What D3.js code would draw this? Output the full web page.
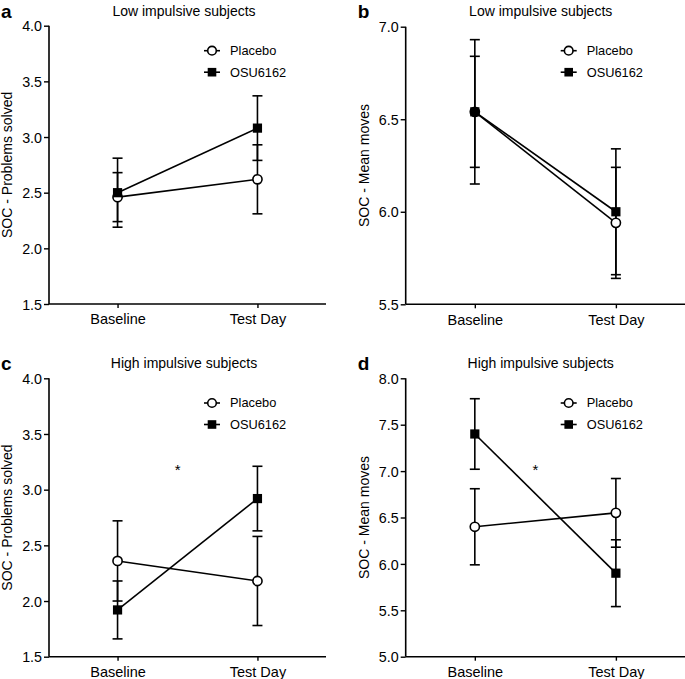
<!DOCTYPE html>
<html>
<head>
<meta charset="utf-8">
<script src="https://cdn.jsdelivr.net/npm/d3@7"></script>
<style>
  body { margin: 0; background: #fff; }
  svg { display: block; }
  text { font-family: "Liberation Sans", Arial, Helvetica, sans-serif; fill: #000; }
</style>
</head>
<body>
<svg id="chart" width="685" height="679"></svg>
<script>
// ---- Data ----
const categories = ["Baseline", "Test Day"];
const seriesNames = ["Placebo", "OSU6162"];

const panelLetters = ["a", "b", "c", "d"];
const panelTitles = ["Low impulsive subjects", "Low impulsive subjects", "High impulsive subjects", "High impulsive subjects"];
const yLabels = ["SOC - Problems solved", "SOC - Mean moves", "SOC - Problems solved", "SOC - Mean moves"];

const yTicksA = [1.5, 2.0, 2.5, 3.0, 3.5, 4.0];
const yTicksB = [5.5, 6.0, 6.5, 7.0];
const yTicksC = [1.5, 2.0, 2.5, 3.0, 3.5, 4.0];
const yTicksD = [5.0, 5.5, 6.0, 6.5, 7.0, 7.5, 8.0];

// Panel a
const placeboA = [2.46, 2.62];
const placeboErrA = [0.22, 0.31];
const osuA = [2.50, 3.08];
const osuErrA = [0.31, 0.29];
// Panel b
const placeboB = [6.54, 5.94];
const placeboErrB = [0.39, 0.30];
const osuB = [6.54, 6.00];
const osuErrB = [0.30, 0.34];
// Panel c
const placeboC = [2.36, 2.18];
const placeboErrC = [0.36, 0.40];
const osuC = [1.92, 2.92];
const osuErrC = [0.26, 0.29];
// Panel d
const placeboD = [6.40, 6.55];
const placeboErrD = [0.41, 0.37];
const osuD = [7.40, 5.90];
const osuErrD = [0.38, 0.36];

// significance marker (fraction between categories, y value)
const starC = { t: 0.43, y: 3.21 };
const starD = { t: 0.43, y: 7.05 };

// ---- Layout ----
const svg = d3.select("#chart");

const panels = [
  { yTicks: yTicksA, placebo: placeboA, placeboErr: placeboErrA, osu: osuA, osuErr: osuErrA, star: null,
    left: 49, right: 326, top: 25.7, bottom: 304, ox: 0, oy: 0 },
  { yTicks: yTicksB, placebo: placeboB, placeboErr: placeboErrB, osu: osuB, osuErr: osuErrB, star: null,
    left: 405.7, right: 685, top: 26.7, bottom: 304.3, ox: 356.7, oy: 0 },
  { yTicks: yTicksC, placebo: placeboC, placeboErr: placeboErrC, osu: osuC, osuErr: osuErrC, star: starC,
    left: 49, right: 326, top: 378.3, bottom: 656.7, ox: 0, oy: 352.3 },
  { yTicks: yTicksD, placebo: placeboD, placeboErr: placeboErrD, osu: osuD, osuErr: osuErrD, star: starD,
    left: 405.7, right: 685, top: 378.3, bottom: 656.7, ox: 356.7, oy: 352.3 }
];

panels.forEach((p, i) => {
  const g = svg.append("g");
  const x = d3.scalePoint().domain(categories).range([p.left, p.right]).padding(0.49);
  const y = d3.scaleLinear().domain(d3.extent(p.yTicks)).range([p.bottom, p.top]);

  // Y axis
  const yAxis = d3.axisLeft(y).tickValues(p.yTicks).tickFormat(d3.format(".1f")).tickSize(5).tickPadding(2);
  const ya = g.append("g").attr("transform", `translate(${p.left},0)`).call(yAxis);
  ya.select(".domain").attr("stroke", "#000").attr("stroke-width", 1.6).attr("d", `M0,${p.top}V${p.bottom}`);
  ya.selectAll(".tick line").attr("stroke", "#000").attr("stroke-width", 1.4);
  ya.selectAll(".tick text").style("font-size", "14.3px").style("font-family", "'Liberation Sans', Arial, sans-serif").attr("fill", "#000").attr("dy", "0.36em");

  // X axis
  const xAxis = d3.axisBottom(x).tickSize(4).tickPadding(6);
  const xa = g.append("g").attr("transform", `translate(0,${p.bottom})`).call(xAxis);
  xa.select(".domain").attr("stroke", "#000").attr("stroke-width", 1.6).attr("d", `M${p.left},0H${p.right}`);
  xa.selectAll(".tick line").attr("stroke", "#000").attr("stroke-width", 1.4);
  xa.selectAll(".tick text").style("font-size", "14.5px").style("font-family", "'Liberation Sans', Arial, sans-serif").attr("fill", "#000");

  // Y label
  const yMid = (p.top + p.bottom) / 2;
  g.append("text")
    .attr("transform", `translate(${p.left - 37},${yMid}) rotate(-90)`)
    .attr("text-anchor", "middle")
    .style("font-size", "14px")
    .text(yLabels[i]);

  // Title
  g.append("text")
    .attr("x", p.ox + 184)
    .attr("y", p.oy + 15.5)
    .attr("text-anchor", "middle")
    .style("font-size", "14px")
    .text(panelTitles[i]);

  // Panel letter
  g.append("text")
    .attr("x", p.ox + 1)
    .attr("y", p.oy + 18)
    .style("font-size", "19px")
    .style("font-weight", "bold")
    .text(panelLetters[i]);

  const series = [
    { name: seriesNames[0], vals: p.placebo, errs: p.placeboErr, shape: "circle" },
    { name: seriesNames[1], vals: p.osu, errs: p.osuErr, shape: "square" }
  ];

  const line = d3.line().x((d, j) => x(categories[j])).y(d => y(d));

  series.forEach(s => {
    s.vals.forEach((v, j) => {
      const cx = x(categories[j]);
      const lo = y(v - s.errs[j]), hi = y(v + s.errs[j]);
      g.append("line").attr("x1", cx).attr("x2", cx).attr("y1", lo).attr("y2", hi)
        .attr("stroke", "#000").attr("stroke-width", 1.6);
      [lo, hi].forEach(yy => {
        g.append("line").attr("x1", cx - 5).attr("x2", cx + 5).attr("y1", yy).attr("y2", yy)
          .attr("stroke", "#000").attr("stroke-width", 1.6);
      });
    });
  });

  series.forEach(s => {
    g.append("path").datum(s.vals).attr("d", line)
      .attr("fill", "none").attr("stroke", "#000").attr("stroke-width", 1.6);
  });

  series.forEach(s => {
    s.vals.forEach((v, j) => {
      const cx = x(categories[j]), cy = y(v);
      if (s.shape === "circle") {
        g.append("circle").attr("cx", cx).attr("cy", cy).attr("r", 4.6)
          .attr("fill", "#fff").attr("stroke", "#000").attr("stroke-width", 1.6);
      } else {
        g.append("rect").attr("x", cx - 4.6).attr("y", cy - 4.6).attr("width", 9.2).attr("height", 9.2)
          .attr("fill", "#000");
      }
    });
  });

  // Legend
  const lx = p.ox + 212;
  const ly0 = p.oy + 50.7;
  const lyStep = 21.5;
  series.forEach((s, k) => {
    const ly = ly0 + k * lyStep;
    g.append("line").attr("x1", lx - 8).attr("x2", lx + 8).attr("y1", ly).attr("y2", ly)
      .attr("stroke", "#000").attr("stroke-width", 1.6);
    if (s.shape === "circle") {
      g.append("circle").attr("cx", lx).attr("cy", ly).attr("r", 4.3)
        .attr("fill", "#fff").attr("stroke", "#000").attr("stroke-width", 1.6);
    } else {
      g.append("rect").attr("x", lx - 4.3).attr("y", ly - 4.3).attr("width", 8.6).attr("height", 8.6).attr("fill", "#000");
    }
    g.append("text").attr("x", lx + 18).attr("y", ly).attr("dy", "0.35em")
      .style("font-size", "12.8px").text(s.name);
  });

  // significance star
  if (p.star) {
    const x0 = x(categories[0]), x1 = x(categories[1]);
    g.append("text")
      .attr("x", x0 + (x1 - x0) * p.star.t)
      .attr("y", y(p.star.y))
      .attr("dy", "0.6em")
      .attr("text-anchor", "middle")
      .style("font-size", "15px")
      .text("*");
  }
});
</script>
</body>
</html>
